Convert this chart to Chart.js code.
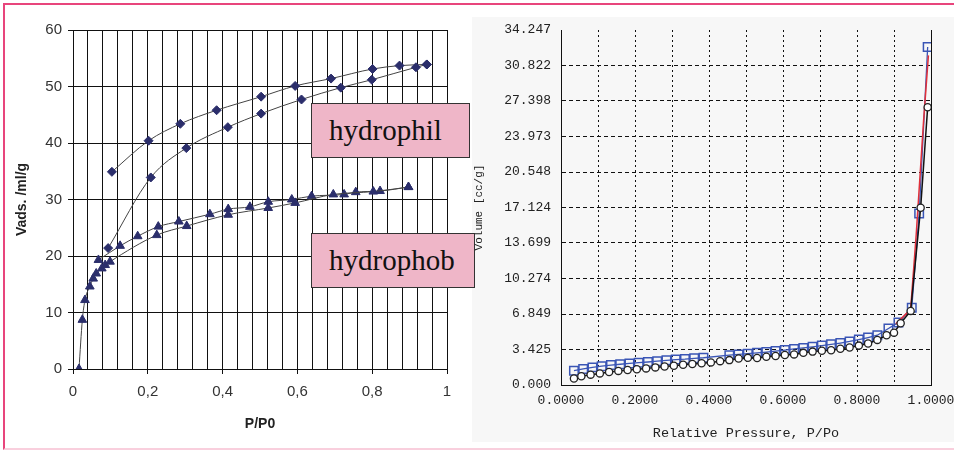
<!DOCTYPE html>
<html>
<head>
<meta charset="utf-8">
<script src="https://cdn.jsdelivr.net/npm/chart.js@4.4.0/dist/chart.umd.min.js"></script>
<style>
html, body { margin: 0; padding: 0; background: #fff; }
#frame { position: absolute; left: 3px; top: 3px; width: 951px; height: 443px;
  border-top: 2px solid #e8457c; border-left: 2px solid #e8457c; border-bottom: 2px solid #f9cfdd; }
#c1 { position: absolute; left: 0; top: 0; }
#c2 { position: absolute; left: 472px; top: 17px; background: #f7f7f7; }
.tag { position: absolute; box-sizing: border-box; background: #efb6c8; border: 1px solid #333;
  font-family: "Liberation Serif", "Times New Roman", serif; font-size: 29px; color: #111;
  padding-left: 17px; }
</style>
</head>
<body>
<div id="frame"></div>
<canvas id="c1" width="470" height="450"></canvas>
<canvas id="c2" width="482" height="425"></canvas>
<div class="tag" style="left:311px;top:103px;width:159px;height:55px;line-height:53px;">hydrophil</div>
<div class="tag" style="left:311px;top:233px;width:164px;height:55px;line-height:53px;">hydrophob</div>
<script>
// left chart: hydrophil / hydrophob isotherms
var philAdsP = [0.094, 0.208, 0.303, 0.414, 0.503, 0.611, 0.716, 0.799, 0.917, 0.946];
var philAdsV = [21.4, 33.9, 39.1, 42.8, 45.2, 47.7, 49.8, 51.2, 53.4, 53.9];
var philDesP = [0.104, 0.202, 0.287, 0.384, 0.503, 0.594, 0.690, 0.801, 0.873, 0.946];
var philDesV = [34.9, 40.4, 43.4, 45.8, 48.2, 50.1, 51.4, 53.1, 53.7, 53.9];

var phobAdsP = [0.016, 0.025, 0.032, 0.045, 0.054, 0.062, 0.077, 0.086, 0.099, 0.224, 0.304, 0.415, 0.522, 0.594, 0.696, 0.803, 0.897];
var phobAdsV = [0, 8.7, 12.2, 14.6, 16.0, 16.9, 17.8, 18.4, 19.0, 23.7, 25.3, 27.3, 28.5, 29.4, 30.9, 31.4, 32.2];
var phobDesP = [0.068, 0.126, 0.173, 0.228, 0.283, 0.366, 0.415, 0.473, 0.522, 0.585, 0.638, 0.725, 0.756, 0.821, 0.897];
var phobDesV = [19.3, 21.8, 23.5, 25.2, 26.1, 27.4, 28.3, 28.7, 29.6, 30.0, 30.6, 30.9, 31.3, 31.5, 32.2];

// right chart: volume vs relative pressure
var sqP = [0.035, 0.060, 0.085, 0.110, 0.135, 0.160, 0.185, 0.210, 0.235, 0.260, 0.285, 0.310, 0.335, 0.360, 0.385,
  0.455, 0.480, 0.505, 0.530, 0.555, 0.580, 0.605, 0.630, 0.655, 0.680, 0.705, 0.730, 0.755, 0.780, 0.805, 0.830,
  0.855, 0.885, 0.912, 0.948, 0.968, 0.991];
var sqV = [1.38, 1.55, 1.70, 1.82, 1.92, 2.00, 2.08, 2.15, 2.22, 2.30, 2.38, 2.45, 2.50, 2.57, 2.63,
  2.88, 2.95, 3.02, 3.10, 3.18, 3.27, 3.37, 3.48, 3.58, 3.68, 3.80, 3.92, 4.05, 4.20, 4.38, 4.58,
  4.80, 5.45, 6.04, 7.45, 16.55, 32.6];
var ciP = [0.035, 0.055, 0.080, 0.105, 0.130, 0.155, 0.180, 0.205, 0.230, 0.255, 0.280, 0.305, 0.330, 0.355, 0.380,
  0.405, 0.430, 0.455, 0.480, 0.505, 0.530, 0.555, 0.580, 0.605, 0.630, 0.655, 0.680, 0.705, 0.730, 0.755, 0.780,
  0.805, 0.830, 0.855, 0.880, 0.900, 0.918, 0.945, 0.972, 0.991];
var ciV = [0.62, 0.85, 1.00, 1.12, 1.25, 1.36, 1.45, 1.52, 1.60, 1.70, 1.78, 1.85, 1.95, 2.02, 2.10,
  2.18, 2.30, 2.40, 2.55, 2.62, 2.60, 2.72, 2.80, 2.90, 2.95, 3.10, 3.22, 3.30, 3.35, 3.50, 3.62,
  3.80, 4.00, 4.35, 4.80, 5.05, 5.95, 7.15, 17.1, 26.8];
var redP = [0.905, 0.945, 0.960, 0.980, 0.993];
var redV = [5.9, 7.3, 14.5, 25.5, 31.8];

var yTicksRight = [0, 3.425, 6.849, 10.274, 13.699, 17.124, 20.548, 23.973, 27.398, 30.822, 34.247];

var navy = '#2b2e6b';
var sans = '"Liberation Sans", Arial, sans-serif';
var mono = '"Liberation Mono", "Courier New", monospace';

function pts(xs, ys) {
  return xs.map(function(x, i) { return {x: x, y: ys[i]}; });
}
function isMajor(v) {
  return Math.abs(v * 5 - Math.round(v * 5)) < 1e-6;
}

function leftSet(xs, ys, style, r) {
  return {
    data: pts(xs, ys), showLine: true, borderColor: '#444', borderWidth: 1,
    cubicInterpolationMode: 'monotone',
    pointStyle: style, pointRadius: r, pointBackgroundColor: navy, pointBorderColor: navy, pointBorderWidth: 1
  };
}

new Chart(document.getElementById('c1'), {
  type: 'scatter',
  data: {
    datasets: [
      leftSet(philAdsP, philAdsV, 'rectRot', 4.5),
      leftSet(philDesP, philDesV, 'rectRot', 4.5),
      leftSet(phobAdsP, phobAdsV, 'triangle', 5),
      leftSet(phobDesP, phobDesV, 'triangle', 5)
    ]
  },
  options: {
    responsive: false,
    animation: false,
    layout: { padding: { left: 0, top: 30, right: 23, bottom: 0 } },
    plugins: { legend: { display: false }, tooltip: { enabled: false } },
    scales: {
      x: {
        type: 'linear', min: 0, max: 1,
        afterFit: function(s) { s.height = 81; s.paddingLeft = 0; s.paddingRight = 0; },
        ticks: {
          stepSize: 0.04, autoSkip: false, maxRotation: 0, padding: 9, color: '#333',
          font: { family: sans, size: 15 },
          callback: function(v) {
            if (!isMajor(v)) return '';
            if (v === 0 || v === 1) return String(v);
            return v.toFixed(1).replace('.', ',');
          }
        },
        grid: {
          color: '#111', lineWidth: 1, tickLength: 5,
          tickColor: function(c) { return c.tick && isMajor(c.tick.value) ? '#111' : 'rgba(0,0,0,0)'; }
        },
        border: { color: '#111' },
        title: { display: true, text: 'P/P0', color: '#222', font: { family: sans, size: 14, weight: 'bold' },
          padding: { top: 0, bottom: 17.6 } }
      },
      y: {
        min: 0, max: 60,
        afterFit: function(s) { s.width = 73; s.paddingTop = 0; s.paddingBottom = 0; },
        ticks: { stepSize: 10, padding: 6, color: '#333', font: { family: sans, size: 15 } },
        grid: { color: '#111', lineWidth: 1, tickLength: 5 },
        border: { color: '#111' },
        title: { display: true, text: 'Vads. /ml/g', color: '#222', font: { family: sans, size: 14, weight: 'bold' },
          padding: { top: 13.6, bottom: 0 } }
      }
    }
  }
});

new Chart(document.getElementById('c2'), {
  type: 'scatter',
  data: {
    datasets: [
      {
        data: pts(ciP, ciV), showLine: true, borderColor: '#111', borderWidth: 1.5,
        pointStyle: 'circle', pointRadius: 3.6, pointBackgroundColor: '#fff', pointBorderColor: '#222', pointBorderWidth: 1.3
      },
      {
        data: pts(redP, redV), showLine: true, borderColor: '#e0303a', borderWidth: 1.5, pointRadius: 0
      },
      {
        data: pts(sqP, sqV), showLine: true, borderColor: '#3a55b5', borderWidth: 1.3,
        pointStyle: 'rect', pointRadius: 6, pointBackgroundColor: 'rgba(0,0,0,0)', pointBorderColor: '#3a55b5', pointBorderWidth: 1.5
      }
    ]
  },
  options: {
    responsive: false,
    animation: false,
    layout: { padding: { left: 0, top: 13, right: 23, bottom: 0 } },
    plugins: { legend: { display: false }, tooltip: { enabled: false } },
    scales: {
      x: {
        type: 'linear', min: 0, max: 1,
        afterFit: function(s) { s.height = 57; s.paddingLeft = 0; s.paddingRight = 0; },
        ticks: {
          stepSize: 0.1, autoSkip: false, maxRotation: 0, padding: 8, color: '#222',
          font: { family: mono, size: 13 },
          callback: function(v) { return isMajor(v) ? v.toFixed(4) : ''; }
        },
        grid: { color: '#111', lineWidth: 1, drawTicks: false },
        border: { color: '#111', dash: [2, 3] },
        title: { display: true, text: 'Relative Pressure, P/Po', color: '#222', font: { family: mono, size: 13.5 },
          padding: { top: 0, bottom: 0 } }
      },
      y: {
        min: 0, max: 34.247,
        afterFit: function(s) { s.width = 89; s.paddingTop = 0; s.paddingBottom = 0; },
        afterBuildTicks: function(s) { s.ticks = yTicksRight.map(function(v) { return {value: v}; }); },
        ticks: { padding: 10, color: '#222', font: { family: mono, size: 13 },
          callback: function(v) { return Number(v).toFixed(3); } },
        grid: {
          lineWidth: 1, drawTicks: false,
          color: function(c) { return c.tick && c.tick.value > 34 ? 'rgba(0,0,0,0)' : '#111'; }
        },
        border: { color: '#111', dash: [4, 3] },
        title: { display: true, text: 'Volume [cc/g]', color: '#222', font: { family: mono, size: 11 },
          padding: { top: 0, bottom: 0 } }
      },
      y2: {
        position: 'right', min: 0, max: 34.247,
        afterFit: function(s) { s.width = 0; s.paddingTop = 0; s.paddingBottom = 0; },
        ticks: { display: false },
        grid: { display: false, drawTicks: false },
        border: { display: true, color: '#111' }
      }
    }
  }
});
</script>
</body>
</html>
